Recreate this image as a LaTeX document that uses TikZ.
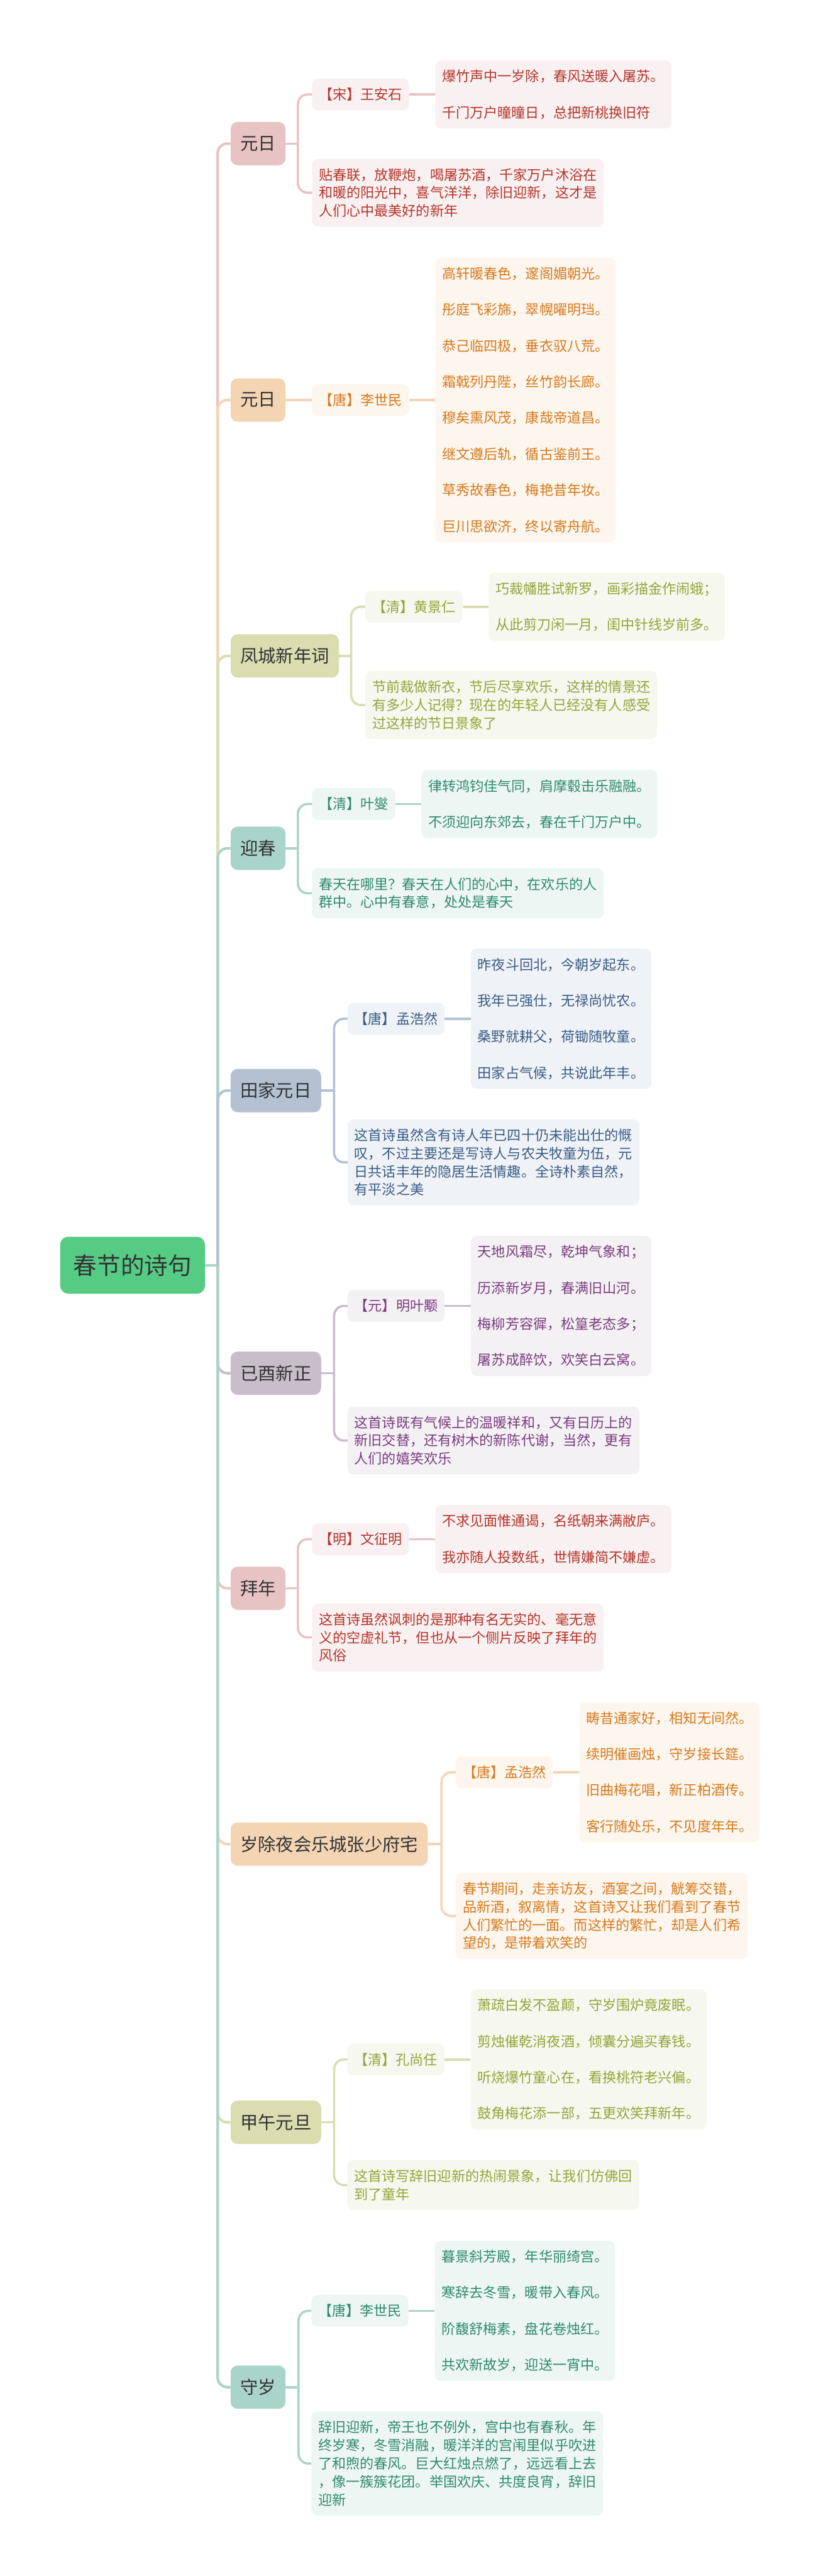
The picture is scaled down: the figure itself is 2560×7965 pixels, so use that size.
\documentclass[tikz,border=0pt]{standalone}
\usepackage{fontspec}
\newfontfamily\cjk{Noto Sans CJK SC}
\usetikzlibrary{positioning}
\definecolor{rootgreen}{HTML}{55CB84}
\definecolor{pinkbox}{HTML}{E8C3C3}
\definecolor{pinklight}{HTML}{F9F1F1}
\definecolor{pinktext}{HTML}{B5352C}
\definecolor{peachbox}{HTML}{F3D5B4}
\definecolor{peachlight}{HTML}{FDF6EE}
\definecolor{peachtext}{HTML}{D67A1E}
\definecolor{olivebox}{HTML}{D9DDB0}
\definecolor{olivelight}{HTML}{F6F7EE}
\definecolor{olivetext}{HTML}{93A63A}
\definecolor{tealbox}{HTML}{A9D4C9}
\definecolor{teallight}{HTML}{EEF6F4}
\definecolor{tealtext}{HTML}{2F8A70}
\definecolor{bluebox}{HTML}{B3C1D3}
\definecolor{bluelight}{HTML}{EFF2F6}
\definecolor{bluetext}{HTML}{3B5D87}
\definecolor{mauvebox}{HTML}{C9BCCB}
\definecolor{mauvelight}{HTML}{F3F1F4}
\definecolor{mauvetext}{HTML}{7B3D80}
\tikzset{topic/.style = {fill = rootgreen, text = black!80, rounded corners = 25pt, minimum width = 448pt, minimum height = 176pt, font = \cjk\fontsize{73pt}{80pt}\selectfont}}
\tikzset{lvone/.style = {fill = #1box, text = black!80, anchor = west, rounded corners = 22pt, minimum height = 134pt, inner xsep = 30pt, font = \cjk\fontsize{55pt}{66pt}\selectfont}}
\tikzset{authorbox/.style = {fill = #1light, text = #1text, anchor = west, rounded corners = 18pt, inner xsep = 21pt, inner ysep = 29pt, font = \cjk\fontsize{43pt}{56pt}\selectfont}}
\tikzset{notebox/.style = {authorbox = #1, align = left}}
\tikzset{poembox/.style = {authorbox = #1, align = left, font = \cjk\fontsize{43pt}{111.5pt}\selectfont}}
\tikzset{link/.style = {draw = #1box, line width = 8pt}}
\tikzset{sublink/.style = {draw = #1box, line width = 7pt}}

\begin{document}
\begin{tikzpicture}[x = 1pt, y = -1pt]
      \fill [white] (0, 0) rectangle (2560, 7965);
      \useasboundingbox (0, 0) rectangle (2560, 7965);

      \node [topic] (root) at (410, 3912) {春节的诗句};
      \coordinate [right = 39pt of root] (trunk);

      \node [lvone = pink] (yuandanA) at (713, 444) {元日};
      \node [lvone = peach] (yuandanB) at (713, 1237) {元日};
      \node [lvone = olive] (fengcheng) at (713, 2028) {凤城新年词};
      \node [lvone = teal] (yingchun) at (713, 2623) {迎春};
      \node [lvone = blue] (tianjia) at (713, 3372) {田家元日};
      \node [lvone = mauve] (jiyou) at (713, 4246) {已酉新正};
      \node [lvone = pink] (bainian) at (713, 4911) {拜年};
      \node [lvone = peach] (suichu) at (713, 5702) {岁除夜会乐城张少府宅};
      \node [lvone = olive] (jiawu) at (713, 6562) {甲午元旦};
      \node [lvone = teal] (shousui) at (713, 7381) {守岁};

      \draw [link = pink, rounded corners = 30pt] (trunk) |- (yuandanA.west);
      \draw [link = peach, rounded corners = 30pt] (trunk) |- (yuandanB.west);
      \draw [link = olive, rounded corners = 30pt] (trunk) |- (fengcheng.west);
      \draw [link = teal, rounded corners = 30pt] (trunk) |- (yingchun.west);
      \draw [link = blue, rounded corners = 30pt] (trunk) |- (tianjia.west);
      \draw [link = mauve, rounded corners = 30pt] (trunk) |- (jiyou.west);
      \draw [link = pink, rounded corners = 30pt] (trunk) |- (bainian.west);
      \draw [link = peach, rounded corners = 30pt] (trunk) |- (suichu.west);
      \draw [link = olive, rounded corners = 30pt] (trunk) |- (jiawu.west);
      \draw [link = teal, rounded corners = 30pt] (trunk) |- (shousui.west);
      \draw [link = teal] (root.east) -- (trunk);

      % 元日 (王安石)
      \node [authorbox = pink] (yuandanA-au) at (965, 292) {【宋】王安石};
      \node [poembox = pink, right = 81pt of yuandanA-au] (yuandanA-poem) {爆竹声中一岁除，春风送暖入屠苏。\\千门万户曈曈日，总把新桃换旧符};
      \node [notebox = pink] (yuandanA-note) at (965, 596) {贴春联，放鞭炮，喝屠苏酒，千家万户沐浴在\\和暖的阳光中，喜气洋洋，除旧迎新，这才是\\人们心中最美好的新年};
      \coordinate [right = 38pt of yuandanA] (yuandanA-j);
      \draw [sublink = pink] (yuandanA.east) -- (yuandanA-j);
      \draw [sublink = pink, rounded corners = 30pt] (yuandanA-j) |- (yuandanA-au.west);
      \draw [sublink = pink, rounded corners = 30pt] (yuandanA-j) |- (yuandanA-note.west);
      \draw [sublink = pink] (yuandanA-au.east) -- (yuandanA-poem.west);

      % 元日 (李世民)
      \node [authorbox = peach] (yuandanB-au) at (965, 1237) {【唐】李世民};
      \node [poembox = peach, right = 81pt of yuandanB-au] (yuandanB-poem) {高轩暖春色，邃阁媚朝光。\\彤庭飞彩旆，翠幌曜明珰。\\恭己临四极，垂衣驭八荒。\\霜戟列丹陛，丝竹韵长廊。\\穆矣熏风茂，康哉帝道昌。\\继文遵后轨，循古鉴前王。\\草秀故春色，梅艳昔年妆。\\巨川思欲济，终以寄舟航。};
      \draw [sublink = peach] (yuandanB.east) -- (yuandanB-au.west);
      \draw [sublink = peach] (yuandanB-au.east) -- (yuandanB-poem.west);

      % 凤城新年词
      \node [authorbox = olive] (fengcheng-au) at (1130, 1876) {【清】黄景仁};
      \node [poembox = olive, right = 81pt of fengcheng-au] (fengcheng-poem) {巧裁幡胜试新罗，画彩描金作闹蛾；\\从此剪刀闲一月，闺中针线岁前多。};
      \node [notebox = olive] (fengcheng-note) at (1130, 2180) {节前裁做新衣，节后尽享欢乐，这样的情景还\\有多少人记得？现在的年轻人已经没有人感受\\过这样的节日景象了};
      \coordinate [right = 38pt of fengcheng] (fengcheng-j);
      \draw [sublink = olive] (fengcheng.east) -- (fengcheng-j);
      \draw [sublink = olive, rounded corners = 30pt] (fengcheng-j) |- (fengcheng-au.west);
      \draw [sublink = olive, rounded corners = 30pt] (fengcheng-j) |- (fengcheng-note.west);
      \draw [sublink = olive] (fengcheng-au.east) -- (fengcheng-poem.west);

      % 迎春
      \node [authorbox = teal] (yingchun-au) at (965, 2486) {【清】叶燮};
      \node [poembox = teal, right = 81pt of yingchun-au] (yingchun-poem) {律转鸿钧佳气同，肩摩毂击乐融融。\\不须迎向东郊去，春在千门万户中。};
      \node [notebox = teal] (yingchun-note) at (965, 2762) {春天在哪里？春天在人们的心中，在欢乐的人\\群中。心中有春意，处处是春天};
      \coordinate [right = 38pt of yingchun] (yingchun-j);
      \draw [sublink = teal] (yingchun.east) -- (yingchun-j);
      \draw [sublink = teal, rounded corners = 30pt] (yingchun-j) |- (yingchun-au.west);
      \draw [sublink = teal, rounded corners = 30pt] (yingchun-j) |- (yingchun-note.west);
      \draw [sublink = teal] (yingchun-au.east) -- (yingchun-poem.west);

      % 田家元日
      \node [authorbox = blue] (tianjia-au) at (1075, 3150) {【唐】孟浩然};
      \node [poembox = blue, right = 81pt of tianjia-au] (tianjia-poem) {昨夜斗回北，今朝岁起东。\\我年已强仕，无禄尚忧农。\\桑野就耕父，荷锄随牧童。\\田家占气候，共说此年丰。};
      \node [notebox = blue] (tianjia-note) at (1075, 3594) {这首诗虽然含有诗人年已四十仍未能出仕的慨\\叹，不过主要还是写诗人与农夫牧童为伍，元\\日共话丰年的隐居生活情趣。全诗朴素自然，\\有平淡之美};
      \coordinate [right = 40pt of tianjia] (tianjia-j);
      \draw [sublink = blue] (tianjia.east) -- (tianjia-j);
      \draw [sublink = blue, rounded corners = 30pt] (tianjia-j) |- (tianjia-au.west);
      \draw [sublink = blue, rounded corners = 30pt] (tianjia-j) |- (tianjia-note.west);
      \draw [sublink = blue] (tianjia-au.east) -- (tianjia-poem.west);

      % 已酉新正
      \node [authorbox = mauve] (jiyou-au) at (1075, 4038) {【元】明叶颙};
      \node [poembox = mauve, right = 81pt of jiyou-au] (jiyou-poem) {天地风霜尽，乾坤气象和；\\历添新岁月，春满旧山河。\\梅柳芳容徲，松篁老态多；\\屠苏成醉饮，欢笑白云窝。};
      \node [notebox = mauve] (jiyou-note) at (1075, 4454) {这首诗既有气候上的温暖祥和，又有日历上的\\新旧交替，还有树木的新陈代谢，当然，更有\\人们的嬉笑欢乐};
      \coordinate [right = 40pt of jiyou] (jiyou-j);
      \draw [sublink = mauve] (jiyou.east) -- (jiyou-j);
      \draw [sublink = mauve, rounded corners = 30pt] (jiyou-j) |- (jiyou-au.west);
      \draw [sublink = mauve, rounded corners = 30pt] (jiyou-j) |- (jiyou-note.west);
      \draw [sublink = mauve] (jiyou-au.east) -- (jiyou-poem.west);

      % 拜年
      \node [authorbox = pink] (bainian-au) at (965, 4759) {【明】文征明};
      \node [poembox = pink, right = 81pt of bainian-au] (bainian-poem) {不求见面惟通谒，名纸朝来满敝庐。\\我亦随人投数纸，世情嫌简不嫌虚。};
      \node [notebox = pink] (bainian-note) at (965, 5063) {这首诗虽然讽刺的是那种有名无实的、毫无意\\义的空虚礼节，但也从一个侧片反映了拜年的\\风俗};
      \coordinate [right = 38pt of bainian] (bainian-j);
      \draw [sublink = pink] (bainian.east) -- (bainian-j);
      \draw [sublink = pink, rounded corners = 30pt] (bainian-j) |- (bainian-au.west);
      \draw [sublink = pink, rounded corners = 30pt] (bainian-j) |- (bainian-note.west);
      \draw [sublink = pink] (bainian-au.east) -- (bainian-poem.west);

      % 岁除夜会乐城张少府宅
      \node [authorbox = peach] (suichu-au) at (1410, 5480) {【唐】孟浩然};
      \node [poembox = peach, right = 81pt of suichu-au] (suichu-poem) {畴昔通家好，相知无间然。\\续明催画烛，守岁接长筵。\\旧曲梅花唱，新正柏酒传。\\客行随处乐，不见度年年。};
      \node [notebox = peach] (suichu-note) at (1410, 5924) {春节期间，走亲访友，酒宴之间，觥筹交错，\\品新酒，叙离情，这首诗又让我们看到了春节\\人们繁忙的一面。而这样的繁忙，却是人们希\\望的，是带着欢笑的};
      \coordinate [right = 42pt of suichu] (suichu-j);
      \draw [sublink = peach] (suichu.east) -- (suichu-j);
      \draw [sublink = peach, rounded corners = 30pt] (suichu-j) |- (suichu-au.west);
      \draw [sublink = peach, rounded corners = 30pt] (suichu-j) |- (suichu-note.west);
      \draw [sublink = peach] (suichu-au.east) -- (suichu-poem.west);

      % 甲午元旦
      \node [authorbox = olive] (jiawu-au) at (1074, 6368) {【清】孔尚任};
      \node [poembox = olive, right = 81pt of jiawu-au] (jiawu-poem) {萧疏白发不盈颠，守岁围炉竟废眠。\\剪烛催乾消夜酒，倾囊分遍买春钱。\\听烧爆竹童心在，看换桃符老兴偏。\\鼓角梅花添一部，五更欢笑拜新年。};
      \node [notebox = olive] (jiawu-note) at (1074, 6756) {这首诗写辞旧迎新的热闹景象，让我们仿佛回\\到了童年};
      \coordinate [right = 40pt of jiawu] (jiawu-j);
      \draw [sublink = olive] (jiawu.east) -- (jiawu-j);
      \draw [sublink = olive, rounded corners = 30pt] (jiawu-j) |- (jiawu-au.west);
      \draw [sublink = olive, rounded corners = 30pt] (jiawu-j) |- (jiawu-note.west);
      \draw [sublink = olive] (jiawu-au.east) -- (jiawu-poem.west);

      % 守岁
      \node [authorbox = teal] (shousui-au) at (963, 7145) {【唐】李世民};
      \node [poembox = teal, right = 81pt of shousui-au] (shousui-poem) {暮景斜芳殿，年华丽绮宫。\\寒辞去冬雪，暖带入春风。\\阶馥舒梅素，盘花卷烛红。\\共欢新故岁，迎送一宵中。};
      \node [notebox = teal] (shousui-note) at (963, 7617) {辞旧迎新，帝王也不例外，宫中也有春秋。年\\终岁寒，冬雪消融，暖洋洋的宫闱里似乎吹进\\了和煦的春风。巨大红烛点燃了，远远看上去\\，像一簇簇花团。举国欢庆、共度良宵，辞旧\\迎新};
      \coordinate [right = 40pt of shousui] (shousui-j);
      \draw [sublink = teal] (shousui.east) -- (shousui-j);
      \draw [sublink = teal, rounded corners = 30pt] (shousui-j) |- (shousui-au.west);
      \draw [sublink = teal, rounded corners = 30pt] (shousui-j) |- (shousui-note.west);
      \draw [sublink = teal] (shousui-au.east) -- (shousui-poem.west);
    \end{tikzpicture}
\end{document}
